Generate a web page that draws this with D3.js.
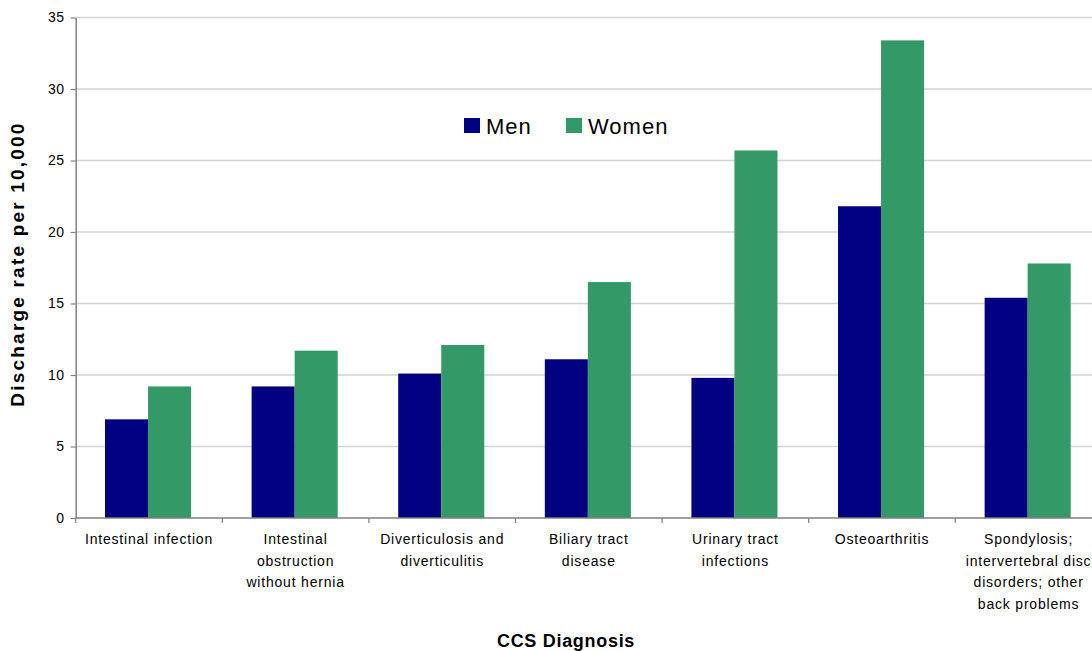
<!DOCTYPE html>
<html>
<head>
<meta charset="utf-8">
<script src="https://cdn.jsdelivr.net/npm/d3@7"></script>
<style>
  html, body { margin: 0; padding: 0; background: #ffffff; }
  svg { display: block; font-family: "Liberation Sans", Arial, sans-serif; }
</style>
</head>
<body>
<svg id="chart" width="1092" height="651"></svg>
<script>
// Hospital discharge rates per 10,000 by CCS diagnosis, men vs women
const categories = [
  "Intestinal infection",
  "Intestinal obstruction without hernia",
  "Diverticulosis and diverticulitis",
  "Biliary tract disease",
  "Urinary tract infections",
  "Osteoarthritis",
  "Spondylosis; intervertebral disc disorders; other back problems"
];
const categoryLines = [
  ["Intestinal infection"],
  ["Intestinal", "obstruction", "without hernia"],
  ["Diverticulosis and", "diverticulitis"],
  ["Biliary tract", "disease"],
  ["Urinary tract", "infections"],
  ["Osteoarthritis"],
  ["Spondylosis;", "intervertebral disc", "disorders; other", "back problems"]
];
const seriesNames = ["Men", "Women"];
const men   = [6.9, 9.2, 10.1, 11.1, 9.8, 21.8, 15.4];
const women = [9.2, 11.7, 12.1, 16.5, 25.7, 33.4, 17.8];
const yTicks = [0, 5, 10, 15, 20, 25, 30, 35];
const colors = { Men: "#000080", Women: "#339966" };

const svg = d3.select("#chart");

const plot = { left: 75.7, top: 17.5, bottom: 518, right: 1101.9 };

const x = d3.scaleBand()
  .domain(categories)
  .range([plot.left, plot.right])
  .paddingInner(0)
  .paddingOuter(0);

const bw = x.bandwidth();
const xSeries = d3.scaleBand()
  .domain(seriesNames)
  .range([bw * 0.2, bw * 0.2 + bw * 0.587])
  .padding(0);

const y = d3.scaleLinear()
  .domain([0, 35])
  .range([plot.bottom, plot.top]);

// horizontal gridlines
svg.append("g")
  .selectAll("line")
  .data(yTicks.filter(d => d > 0))
  .join("line")
  .attr("x1", plot.left)
  .attr("x2", plot.right)
  .attr("y1", d => y(d))
  .attr("y2", d => y(d))
  .attr("stroke", "#d3d3d3")
  .attr("stroke-width", 1.5);

// bars
const rows = categories.map((c, i) => ({ cat: c, values: [
  { key: "Men", value: men[i] },
  { key: "Women", value: women[i] }
]}));

svg.append("g")
  .selectAll("g")
  .data(rows)
  .join("g")
  .attr("transform", d => `translate(${x(d.cat)},0)`)
  .selectAll("rect")
  .data(d => d.values)
  .join("rect")
  .attr("x", d => xSeries(d.key))
  .attr("width", xSeries.bandwidth())
  .attr("y", d => y(d.value))
  .attr("height", d => y(0) - y(d.value))
  .attr("fill", d => colors[d.key]);

// y axis
const yAxis = svg.append("g")
  .attr("transform", `translate(${plot.left},0)`)
  .call(d3.axisLeft(y).tickValues(yTicks).tickSize(5).tickPadding(6).tickSizeOuter(0));
yAxis.select(".domain").attr("stroke", "#808080").attr("stroke-width", 1.5);
yAxis.selectAll(".tick line").attr("stroke", "#808080").attr("stroke-width", 1.2);
yAxis.selectAll(".tick text")
  .attr("font-size", 14)
  .attr("fill", "#000")
  .style("letter-spacing", "0.6px")
  .attr("font-family", "Liberation Sans, Arial, sans-serif");

// x axis line with boundary ticks
const xAxis = svg.append("g");
xAxis.append("line")
  .attr("x1", plot.left).attr("x2", plot.right)
  .attr("y1", y(0)).attr("y2", y(0))
  .attr("stroke", "#808080").attr("stroke-width", 1.5);
xAxis.selectAll("line.bound")
  .data(categories.map((c, i) => i).concat([categories.length]))
  .join("line")
  .attr("class", "bound")
  .attr("x1", i => plot.left + i * bw)
  .attr("x2", i => plot.left + i * bw)
  .attr("y1", y(0))
  .attr("y2", y(0) + 5)
  .attr("stroke", "#808080")
  .attr("stroke-width", 1.2);

// category labels
const labelG = svg.append("g")
  .attr("font-size", 14)
  .attr("fill", "#000")
  .attr("text-anchor", "middle")
  .style("letter-spacing", "0.8px");
categories.forEach((c, i) => {
  const t = labelG.append("text")
    .attr("x", x(c) + bw / 2)
    .attr("y", 544);
  categoryLines[i].forEach((line, j) => {
    t.append("tspan")
      .attr("x", x(c) + bw / 2)
      .attr("y", 544 + j * 21.6)
      .text(line);
  });
});

// axis titles
svg.append("text")
  .attr("transform", "translate(24,264) rotate(-90)")
  .attr("text-anchor", "middle")
  .attr("font-size", 19)
  .attr("font-weight", "bold")
  .style("letter-spacing", "2.2px")
  .text("Discharge rate per 10,000");

svg.append("text")
  .attr("x", 566)
  .attr("y", 647)
  .attr("text-anchor", "middle")
  .attr("font-size", 18)
  .attr("font-weight", "bold")
  .style("letter-spacing", "0.7px")
  .text("CCS Diagnosis");

// legend
const legend = svg.append("g");
const legendItems = [
  { key: "Men", x: 464 },
  { key: "Women", x: 566 }
];
legendItems.forEach(item => {
  legend.append("rect")
    .attr("x", item.x).attr("y", 118)
    .attr("width", 16).attr("height", 15)
    .attr("fill", colors[item.key]);
  legend.append("text")
    .attr("x", item.x + 22).attr("y", 134)
    .attr("font-size", 22)
    .style("letter-spacing", "1px")
    .text(item.key);
});
</script>
</body>
</html>
